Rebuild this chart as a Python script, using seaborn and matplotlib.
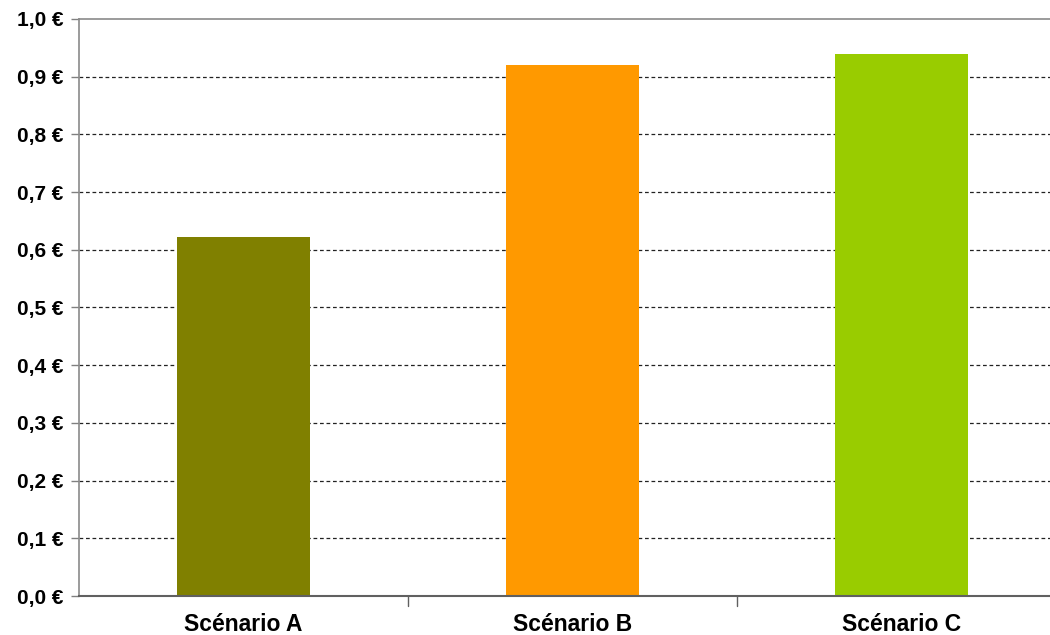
import matplotlib
matplotlib.use("Agg")
import matplotlib.pyplot as plt
import seaborn as sns
import pandas as pd
import numpy as np

# Coût par scénario (en euros)
scenarios = ["Scénario A", "Scénario B", "Scénario C"]
costs = [0.622, 0.921, 0.940]
bar_colors = ["#808000", "#FF9900", "#99CC00"]
y_ticks = [0.0, 0.1, 0.2, 0.3, 0.4, 0.5, 0.6, 0.7, 0.8, 0.9, 1.0]
y_tick_labels = ["0,0 €", "0,1 €", "0,2 €", "0,3 €", "0,4 €", "0,5 €",
                 "0,6 €", "0,7 €", "0,8 €", "0,9 €", "1,0 €"]

sns.set_theme(style="white")
plt.rcParams["font.family"] = ["Liberation Sans", "DejaVu Sans"]

df = pd.DataFrame({"scenario": scenarios, "cout": costs})

fig = plt.figure(figsize=(10.5, 6.35), dpi=100)
ax = fig.add_axes([0.0752, 0.0614, 0.9400, 0.9087])

# dashed horizontal grid behind the bars
for v in y_ticks[1:-1]:
    ax.axhline(v, color="#222222", linewidth=0.9, linestyle=(0, (3.0, 2.2)), zorder=0)

sns.barplot(data=df, x="scenario", y="cout", hue="scenario", palette=bar_colors,
            width=0.404, legend=False, ax=ax, saturation=1, zorder=2,
            linewidth=0, edgecolor="none")

ax.set_xlim(-0.5, 2.5)
ax.set_ylim(0, 1.0)
ax.set_yticks(y_ticks)
ax.set_yticklabels(y_tick_labels, fontsize=15, fontweight="bold", color="black")
ax.set_xticks(range(len(scenarios)))
ax.set_xticklabels(scenarios, fontsize=16.5, fontweight="bold", color="black")
ax.tick_params(axis="x", length=0, pad=12)
ax.tick_params(axis="y", length=6, width=1, color="#808080", pad=5, left=True)

# category separators on the x axis
for b in [0.5, 1.5]:
    ax.plot([b, b], [0, -0.017], color="#606060", linewidth=1, clip_on=False, zorder=3)

ax.set_xlabel("")
ax.set_ylabel("")
for side in ["left", "top", "right"]:
    ax.spines[side].set_color("#8a8a8a")
    ax.spines[side].set_linewidth(1.2)
ax.spines["bottom"].set_color("#606060")
ax.spines["bottom"].set_linewidth(1.5)

fig.savefig("out.png", dpi=100, facecolor="white")
